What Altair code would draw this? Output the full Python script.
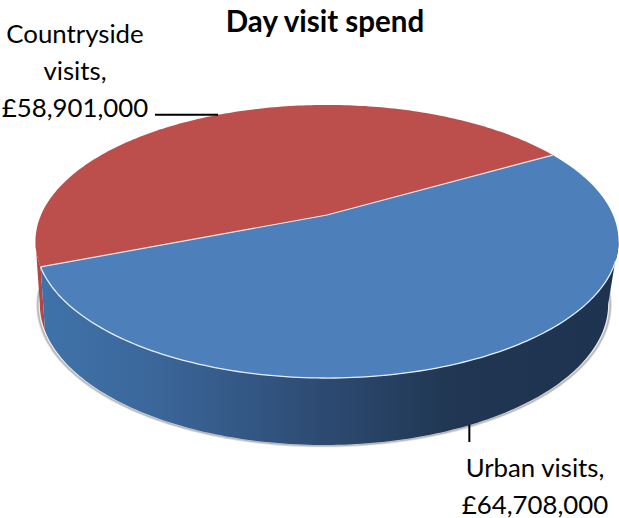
import math
import altair as alt

# Day visit spend by destination, in pounds
categories = ["Urban visits", "Countryside visits"]
spend = [64708000, 58901000]

FONT = "Lato"
START_CLOCKWISE = 60.0  # first slice begins this many degrees clockwise from north
SILHOUETTE_RIGHT = -11.0  # where the side wall turns out of view
SILHOUETTE_LEFT = -169.0


def rim(angle, cx, cy, fx, gy, k):
    """Perspective view of a point on the unit circle (angle in degrees, anticlockwise)."""
    a = math.radians(angle)
    x, y = math.cos(a), math.sin(a)
    w = 1 + k * y
    return [cx + fx * x / w, cy - gy * y / w]


def top(angle):
    return rim(angle, 327, 215, 286, 131.4, 0.194)


def base(angle):
    return rim(angle, 324, 277.2, 279, 135.9, 0.19)


def halo(angle):
    return rim(angle, 324, 278, 281, 135.9, 0.19)


def arc_angles(a0, a1, step=1.0):
    n = max(2, int(abs(a1 - a0) / step) + 1)
    return [a0 + (a1 - a0) * i / n for i in range(n + 1)]


def feature(kind, coords):
    return {"type": "Feature", "properties": {},
            "geometry": {"type": kind, "coordinates": coords}}


def wall(a0, a1):
    arc = arc_angles(a0, a1)
    ring = [top(a) for a in arc] + [base(a) for a in reversed(arc)]
    ring.append(ring[0])
    return ring


# Slice boundaries follow from the values
total = sum(spend)
first = 90 - START_CLOCKWISE
urban_end = first - 360 * spend[0] / total
country_end = urban_end - 360 * spend[1] / total
urban_mid = (first + urban_end) / 2
country_mid = (urban_end + country_end) / 2

centre = [327, 215]

urban_face = [centre] + [top(a) for a in arc_angles(first, urban_end)] + [centre]
country_face = [centre] + [top(a) for a in arc_angles(urban_end, country_end)] + [centre]
urban_wall = wall(SILHOUETTE_RIGHT, urban_end)
country_wall = wall(urban_end, SILHOUETTE_LEFT)

near_rim = [top(a) for a in arc_angles(urban_end, -19)]
divider = [top(urban_end), centre, top(first)]
shadow_arc = [halo(a) for a in arc_angles(6, -175)]


def shape(kind, coords, **mark):
    return (
        alt.Chart(alt.Data(values=[feature(kind, coords)]))
        .mark_geoshape(**mark)
        .project(type="identity", scale=1, translate=[0, 0], reflectY=False)
    )


wall_gradient = alt.Gradient(
    gradient="linear", x1=0, x2=1, y1=0, y2=0,
    stops=[
        alt.GradientStop(offset=0.0, color="#3f72a9"),
        alt.GradientStop(offset=0.18, color="#3b689c"),
        alt.GradientStop(offset=0.45, color="#2f4e77"),
        alt.GradientStop(offset=0.72, color="#203652"),
        alt.GradientStop(offset=1.0, color="#1e3350"),
    ],
)

layers = [
    shape("LineString", shadow_arc, filled=False, stroke="#dedede", strokeWidth=3.2),
    shape("LineString", shadow_arc, filled=False, stroke="#b8b8b8", strokeWidth=1.4),
    shape("Polygon", [country_wall], fill="#b04744", stroke="transparent"),
    shape("Polygon", [urban_wall], fill=wall_gradient, stroke="transparent"),
    shape("Polygon", [country_face], fill="#bc4f4c", stroke="transparent"),
    shape("Polygon", [urban_face], fill="#4d7fbb", stroke="transparent"),
    shape("LineString", near_rim, filled=False, stroke="#e6edf3", strokeWidth=1.3),
    shape("LineString", divider, filled=False, stroke="#e6e6ec", strokeWidth=1.2),
]

# Leader lines start on the rim at the middle of each slice
leader_a = top(country_mid)
leader_b = base(urban_mid)
leaders = [
    {"x": leader_a[0] - 3, "x2": 155, "y": leader_a[1] + 0.5, "y2": leader_a[1] + 0.5},
    {"x": leader_b[0] - 1, "x2": leader_b[0] - 1, "y": leader_b[1], "y2": 442},
]
pixel_x = alt.Scale(domain=[0, 619], range=[0, 619])
pixel_y = alt.Scale(domain=[0, 518], range=[0, 518])
layers.append(
    alt.Chart(alt.Data(values=leaders)).mark_rule(color="#000000", strokeWidth=2).encode(
        x=alt.X("x:Q", scale=pixel_x, axis=None),
        x2="x2:Q",
        y=alt.Y("y:Q", scale=pixel_y, axis=None),
        y2="y2:Q",
    )
)

label_rows = [
    {"text": "Day visit spend", "x": 325, "y": 23, "bold": True},
    {"text": "Countryside", "x": 75, "y": 35, "bold": False},
    {"text": "visits,", "x": 75, "y": 72, "bold": False},
    {"text": f"£{spend[1]:,}", "x": 75, "y": 109, "bold": False},
    {"text": "Urban visits,", "x": 535, "y": 469, "bold": False},
    {"text": f"£{spend[0]:,}", "x": 535, "y": 506, "bold": False},
]
for bold, size in ((True, 29.5), (False, 25.8)):
    rows = [r for r in label_rows if r["bold"] == bold]
    layers.append(
        alt.Chart(alt.Data(values=rows)).mark_text(
            font=FONT, fontSize=size, fontWeight="bold" if bold else "normal",
            color="#000000", align="center", baseline="middle",
        ).encode(
            x=alt.X("x:Q", scale=pixel_x, axis=None),
            y=alt.Y("y:Q", scale=pixel_y, axis=None),
            text="text:N",
        )
    )

chart = alt.layer(*layers).properties(
    width=619, height=518, padding=0, autosize="none", background="#ffffff",
).configure_view(stroke=None)

chart.save("out.html", embed_options={"renderer": "svg", "actions": False})
